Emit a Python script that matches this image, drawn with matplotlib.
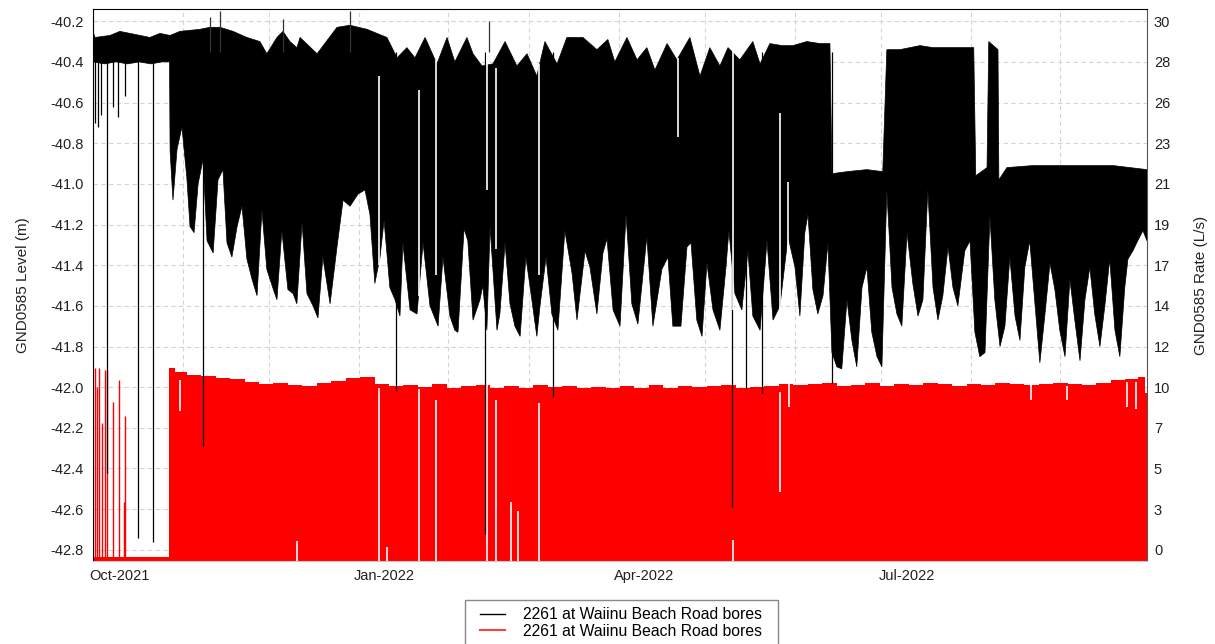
import datetime as dt
import numpy as np
import matplotlib
matplotlib.use('Agg')
import matplotlib.pyplot as plt
import matplotlib.dates as mdates
from matplotlib.lines import Line2D
from matplotlib.patches import Rectangle
from matplotlib.transforms import ScaledTranslation

plt.rcParams['font.family'] = ['Liberation Sans', 'DejaVu Sans']

START = dt.datetime(2021, 10, 1)
END = dt.datetime(2022, 10, 1)

# --- level (m), all days counted from 1 Oct 2021 ---
# upper envelope of the daily drawdown cycles
top_days = [0, 0.7, 5.9, 9.3, 12.8, 16.3, 19.7, 23.2, 26.7, 30.1,
            37.0, 40.5, 44.0, 48.5, 53.3, 57.8, 60.2, 63.7, 65.8, 68.2,
            70.6, 71.7, 77.6, 84.5, 89.0, 94.9, 101.8, 105.3, 108.7, 111.5,
            115.0, 119.1, 122.6, 125.3, 129.5, 131.6, 134.7, 138.5, 142.7, 146.8,
            150.3, 153.7, 156.5, 160.7, 164.1, 169.7, 174.5, 178.3, 180.7, 184.9,
            188.4, 191.8, 194.6, 198.8, 202.2, 206.7, 210.2, 213.6, 217.1, 219.9,
            224.0, 228.5, 231.0, 234.4, 238.6, 242.4, 247.2, 251.7, 255.2, 255.9,
            261.1, 268.0, 273.5, 274.9, 279.4, 286.4, 290.9, 296.7, 305.0, 305.7,
            309.6, 310.2, 313.4, 313.7, 316.5, 325.5, 334.8, 344.2, 353.2, 365.0]
top_level = [-40.25, -40.28, -40.27, -40.25, -40.26, -40.27, -40.28, -40.26, -40.27, -40.25,
             -40.24, -40.23, -40.23, -40.25, -40.28, -40.30, -40.36, -40.28, -40.25, -40.30,
             -40.33, -40.28, -40.36, -40.23, -40.22, -40.24, -40.28, -40.38, -40.33, -40.38,
             -40.28, -40.41, -40.28, -40.40, -40.28, -40.36, -40.42, -40.41, -40.30, -40.42,
             -40.36, -40.47, -40.30, -40.41, -40.28, -40.28, -40.34, -40.29, -40.40, -40.28,
             -40.39, -40.33, -40.44, -40.31, -40.39, -40.28, -40.47, -40.33, -40.42, -40.33,
             -40.39, -40.30, -40.41, -40.31, -40.32, -40.32, -40.30, -40.31, -40.31, -40.95,
             -40.94, -40.93, -40.94, -40.34, -40.34, -40.32, -40.33, -40.33, -40.33, -40.96,
             -40.92, -40.30, -40.34, -40.98, -40.92, -40.91, -40.91, -40.91, -40.91, -40.93]

# lower envelope (pumping drawdown)
low_days = [0, 4, 8, 12, 16, 20, 24, 26.5,
            26.7, 27.7, 29.1, 30.8, 32.5, 33.6, 35.0, 36.4, 38.1, 39.5,
            41.6, 43.3, 45.0, 46.4, 48.1, 49.9, 51.6, 53.3, 55.1, 56.8,
            58.5, 60.2, 62.0, 63.7, 65.4, 67.5, 69.3, 70.6, 72.4, 74.1,
            76.2, 77.9, 79.6, 82.1, 84.5, 86.6, 89.0, 91.8, 94.2, 95.9,
            97.6, 99.4, 100.8, 102.8, 104.6, 106.3, 107.3, 109.8, 112.2, 114.3,
            116.7, 119.5, 121.2, 123.6, 125.3, 126.4, 128.5, 129.8, 131.6, 134.0,
            135.0, 136.4, 137.5, 139.9, 140.9, 142.7, 144.4, 146.1, 147.9, 149.9,
            151.3, 153.7, 154.8, 156.9, 158.9, 161.0, 163.4, 165.9, 167.6, 170.4,
            172.1, 174.5, 176.6, 178.0, 180.1, 182.5, 184.6, 186.6, 188.7, 191.8,
            193.9, 197.0, 199.1, 200.8, 203.6, 205.7, 207.1, 209.1, 210.9, 212.6,
            214.7, 217.1, 219.2, 220.2, 222.3, 224.7, 226.8, 228.5, 231.0, 233.4,
            235.5, 237.9, 240.7, 243.1, 244.8, 246.5, 247.6, 249.3, 251.0, 252.8,
            254.5, 255.9, 257.6, 259.3, 261.1, 262.8, 264.5, 266.3, 268.0, 269.7,
            271.5, 273.2, 274.9, 276.7, 278.4, 280.1, 281.9, 283.9, 285.7, 287.4,
            289.1, 290.9, 292.6, 294.3, 296.1, 297.8, 299.5, 301.9, 303.7, 305.4,
            307.1, 308.9, 310.6, 312.3, 314.1, 315.8, 317.5, 319.3, 321.0, 322.7,
            324.4, 326.2, 327.9, 329.6, 331.4, 333.1, 334.8, 336.6, 338.3, 340.0,
            341.8, 343.5, 345.2, 346.9, 348.7, 350.4, 352.1, 353.9, 355.6, 357.3,
            358.4, 360.1, 361.8, 363.6, 365.0]
low_level = [-40.40, -40.41, -40.40, -40.41, -40.40, -40.41, -40.40, -40.40,
             -40.84, -41.08, -40.83, -40.72, -40.97, -41.21, -41.24, -41.00, -40.88, -41.28,
             -41.34, -40.98, -40.93, -41.29, -41.36, -41.21, -41.11, -41.37, -41.47, -41.55,
             -41.13, -41.42, -41.50, -41.57, -41.23, -41.52, -41.54, -41.59, -41.19, -41.54,
             -41.60, -41.66, -41.36, -41.59, -41.31, -41.08, -41.11, -41.05, -41.03, -41.15,
             -41.49, -41.36, -41.18, -41.51, -41.57, -41.65, -41.29, -41.62, -41.64, -41.29,
             -41.60, -41.70, -41.36, -41.65, -41.72, -41.73, -41.22, -41.28, -41.67, -41.57,
             -41.50, -41.72, -41.21, -41.72, -41.64, -41.29, -41.59, -41.70, -41.75, -41.36,
             -41.50, -41.75, -41.60, -41.36, -41.64, -41.72, -41.23, -41.44, -41.67, -41.33,
             -41.41, -41.64, -41.34, -41.27, -41.62, -41.70, -41.15, -41.59, -41.69, -41.26,
             -41.70, -41.42, -41.36, -41.70, -41.70, -41.31, -41.29, -41.67, -41.75, -41.39,
             -41.62, -41.72, -41.41, -41.23, -41.54, -41.62, -41.33, -41.65, -41.72, -41.28,
             -41.67, -41.60, -41.26, -41.41, -41.65, -41.24, -41.15, -41.52, -41.64, -41.55,
             -41.29, -41.83, -41.90, -41.91, -41.57, -41.77, -41.90, -41.51, -41.41, -41.73,
             -41.85, -41.90, -41.03, -41.51, -41.64, -41.70, -41.24, -41.49, -41.65, -41.57,
             -41.03, -41.51, -41.67, -41.55, -41.31, -41.51, -41.60, -41.33, -41.28, -41.73,
             -41.85, -41.83, -41.16, -41.57, -41.80, -41.70, -41.36, -41.65, -41.77, -41.41,
             -41.28, -41.59, -41.88, -41.65, -41.39, -41.52, -41.72, -41.85, -41.47, -41.67,
             -41.87, -41.57, -41.41, -41.64, -41.80, -41.60, -41.37, -41.72, -41.85, -41.51,
             -41.37, -41.33, -41.28, -41.23, -41.28]

# single deep readings
spike_days = [0.7, 1.7, 2.8, 4.8, 6.9, 8.7, 11.1, 15.6, 20.8, 38.1,
              104.9, 135.7, 159.3, 221.3, 226.1, 231.6, 255.9]
spike_level = [-40.70, -40.72, -40.66, -42.42, -40.62, -40.67, -40.57, -42.74, -42.76, -42.29,
               -42.02, -42.72, -42.05, -42.59, -42.01, -42.03, -41.98]

# single high readings
peak_days = [40.5, 44.0, 65.8, 89.0, 137.1]
peak_level = [-40.18, -40.15, -40.19, -40.15, -40.20]

# short gaps inside the level band
lgap_days = [99.0, 112.9, 118.8, 136.6, 139.5, 154.4, 202.6, 221.7, 237.9, 240.6]
lgap_hi = [-40.47, -40.54, -40.39, -40.21, -40.43, -40.41, -40.38, -40.23, -40.65, -40.99]
lgap_lo = [-41.40, -41.55, -41.45, -41.03, -41.32, -41.45, -40.77, -41.62, -41.67, -41.50]

# --- pumping rate (L/s) ---
rate_days = [0, 26.3, 26.5] + list(range(30, 361, 5)) + [363.5, 364.8, 365]
rate_vals = [0, 0, 10.7,
             10.45, 10.3, 10.25, 10.15, 10.1, 9.9, 9.8, 9.85, 9.75, 9.7,
             9.85, 9.95, 10.15, 10.2, 9.8, 9.7, 9.75, 9.65, 9.8, 9.6,
             9.7, 9.75, 9.6, 9.7, 9.6, 9.75, 9.65, 9.7, 9.6, 9.65,
             9.55, 9.7, 9.6, 9.75, 9.6, 9.7, 9.65, 9.7, 9.75, 9.6,
             9.65, 9.7, 9.8, 9.75, 9.8, 9.85, 9.7, 9.75, 9.85, 9.7,
             9.8, 9.75, 9.85, 9.8, 9.7, 9.8, 9.75, 9.85, 9.8, 9.75,
             9.8, 9.85, 9.8, 9.75, 9.85, 10.0, 10.1,
             10.2, 9.3, 9.3]

# pump tests before continuous operation
blip_days = [0.7, 1.4, 2.1, 3.1, 4.2, 4.8, 6.9, 9.0, 10.7, 11.1]
blip_vals = [10.7, 9.65, 10.7, 7.6, 10.6, 10.6, 8.8, 10.0, 3.1, 8.0]

# gaps in the rate record
rgap_days = [30.1, 70.6, 99.0, 101.8, 112.9, 118.8, 136.6, 139.5, 144.7, 147.2,
             154.4, 221.6, 237.9, 240.9, 324.8, 337.3, 358.0, 361.1]
rgap_lo = [8.3, 0, 0, 0, 0, 0, 0, 0, 0, 0,
           0, 0, 3.7, 8.5, 8.9, 8.9, 8.5, 8.4]
rgap_hi = [10.0, 0.9, 9.6, 0.6, 9.5, 8.9, 10.1, 8.9, 3.1, 2.6,
           8.7, 1.0, 9.35, 9.85, 9.8, 9.7, 9.9, 9.9]

level_ticks = [-40.2, -40.4, -40.6, -40.8, -41.0, -41.2, -41.4, -41.6, -41.8,
               -42.0, -42.2, -42.4, -42.6, -42.8]
rate_ticklabels = ['30', '28', '26', '23', '21', '19', '17', '14', '12',
                   '10', '7', '5', '3', '0']
legend_labels = ['2261 at Waiinu Beach Road bores', '2261 at Waiinu Beach Road bores']

LEVEL_LIM = (-42.855, -40.14)


def rate_of(level):
    # right axis is aligned tick-for-tick with the left one
    return 0.42 + 11.5 * (np.asarray(level) + 42.8)


base = mdates.date2num(START)


def xd(days):
    return base + np.asarray(days, dtype=float)


fig = plt.figure(figsize=(12.15, 6.44), dpi=100)
ax = fig.add_axes([93 / 1215, 83 / 644, 1054 / 1215, 552 / 644])
ax2 = ax.twinx()

# rate axis sits underneath, level axis on top
ax.set_zorder(ax2.get_zorder() + 1)
ax.patch.set_visible(False)
ax2.patch.set_visible(True)
ax2.patch.set_facecolor('white')

ax.set_xlim(mdates.date2num(START), mdates.date2num(END))
ax.set_ylim(*LEVEL_LIM)
rbot, rtop = rate_of(LEVEL_LIM[0]), rate_of(LEVEL_LIM[1])
ax2.set_ylim(rbot, rtop)

# red rate series
ax2.fill_between(xd(rate_days), rbot, rate_vals, step='mid', color='#ff0000', lw=0)
ax2.vlines(xd(blip_days), rbot, blip_vals, color='#ff0000', lw=1.0)
rlo = np.where(np.asarray(rgap_lo) <= 0, rbot, rgap_lo)
ax2.vlines(xd(rgap_days), rlo, rgap_hi, color='white', lw=1.2)

# black level series
poly_x = np.concatenate([xd(top_days), xd(low_days)[::-1]])
poly_y = np.concatenate([top_level, np.asarray(low_level)[::-1]])
ax.fill(poly_x, poly_y, facecolor='black', edgecolor='black', lw=0.5)
ax.vlines(xd(spike_days), spike_level, -40.35, color='black', lw=0.9)
ax.vlines(xd(peak_days), -40.35, peak_level, color='#333333', lw=0.9)
ax.vlines(xd(lgap_days), lgap_lo, lgap_hi, color='white', lw=1.2)

# ticks
month_starts = [dt.datetime(2021 + (9 + i) // 12, (9 + i) % 12 + 1, 1) for i in range(13)]
xlabels = [m.strftime('%b-%Y') if (m.month in (1, 4, 7, 10) and m < END) else ''
           for m in month_starts]
ax.set_xticks(mdates.date2num(month_starts))
ax.set_xticklabels(xlabels)
ax.set_yticks(level_ticks)
ax.set_yticklabels([f'{v:.1f}' for v in level_ticks])
ax2.set_yticks(rate_of(level_ticks))
ax2.set_yticklabels(rate_ticklabels)

ax.tick_params(axis='both', length=0, labelsize=10.5, colors='#222222')
ax.tick_params(axis='y', pad=7)
ax.tick_params(axis='x', pad=6)
ax2.tick_params(axis='y', length=0, labelsize=10.5, colors='#222222', pad=5)
for lab in ax.get_xticklabels():
    lab.set_transform(lab.get_transform() + ScaledTranslation(0.26, 0, fig.dpi_scale_trans))

# grid lives on the bottom axis so the data covers it
ax2.xaxis.set_visible(True)
ax2.tick_params(axis='x', labelbottom=False, length=0)
ax2.set_axisbelow(True)
ax2.grid(True, color='#d4d4d4', linestyle=(0, (4, 3)), lw=0.8)
ax.grid(False)

for a in (ax, ax2):
    for s in a.spines.values():
        s.set_visible(False)
ax.spines['top'].set_visible(True)
ax.spines['top'].set_color('black')
ax.spines['left'].set_visible(True)
ax.spines['left'].set_color('black')
ax.spines['right'].set_visible(True)
ax.spines['right'].set_color('#555555')
ax.spines['bottom'].set_visible(True)
ax.spines['bottom'].set_color('#c8c8c8')

fig.text(23 / 1215, 1 - 285 / 644, 'GND0585 Level (m)', rotation=90,
         ha='center', va='center', fontsize=11, color='#222222')
fig.text(1201 / 1215, 1 - 285 / 644, 'GND0585 Rate (L/s)', rotation=90,
         ha='center', va='center', fontsize=11, color='#222222')

# legend box runs off the bottom of the image, as in the source
fig.patches.append(Rectangle((465 / 1215, -0.05), 313 / 1215, 44 / 644 + 0.05,
                             transform=fig.transFigure, fill=False,
                             edgecolor='#888888', lw=1))
handles = [Line2D([], [], color='black', lw=1), Line2D([], [], color='#ff4040', lw=1.5)]
fig.legend(handles, legend_labels, loc='upper left', bbox_to_anchor=(480 / 1215, 1 - 607 / 644),
           fontsize=11.3, frameon=False, labelspacing=0.1, handlelength=1.6,
           handletextpad=1.15, borderpad=0, borderaxespad=0)

fig.savefig('out.png', dpi=100)
